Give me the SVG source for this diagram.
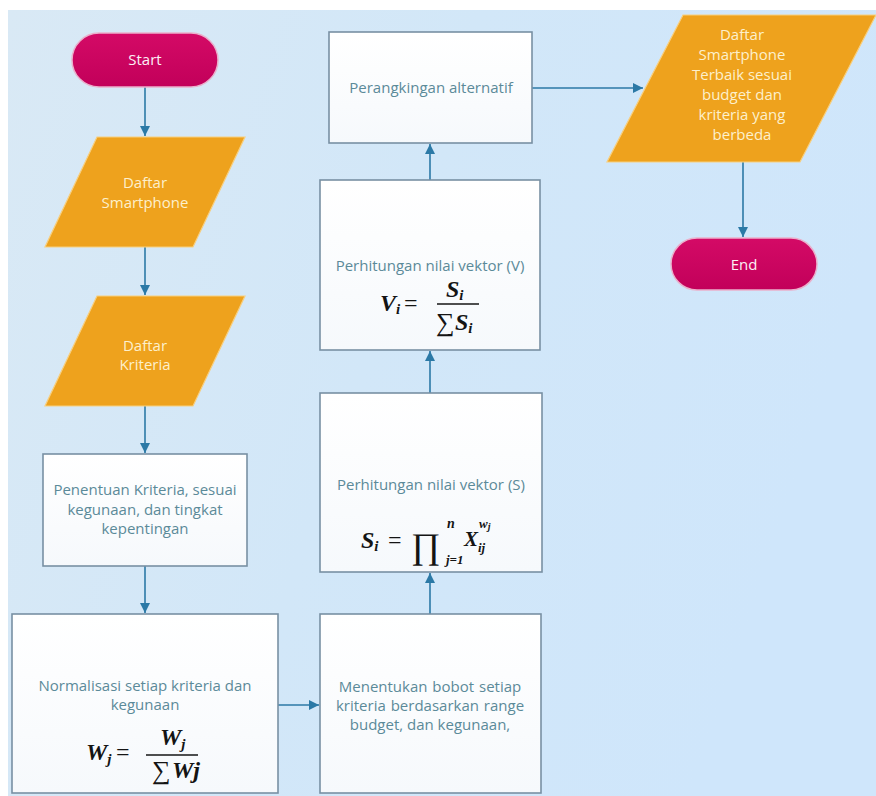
<svg xmlns="http://www.w3.org/2000/svg" width="876" height="796" viewBox="0 0 876 796">
<defs>
<linearGradient id="bg" x1="0" y1="0" x2="1" y2="0.3">
<stop offset="0" stop-color="#d9e9f5"/>
<stop offset="0.5" stop-color="#d2e7f8"/>
<stop offset="1" stop-color="#cfe6fb"/>
</linearGradient>
<linearGradient id="pill" x1="0" y1="0" x2="0" y2="1">
<stop offset="0" stop-color="#d40a66"/>
<stop offset="1" stop-color="#c2005a"/>
</linearGradient>
<linearGradient id="box" x1="0" y1="0" x2="0" y2="1">
<stop offset="0" stop-color="#ffffff"/>
<stop offset="1" stop-color="#f6f9fc"/>
</linearGradient>
<marker id="ah" viewBox="0 0 10 10" refX="10" refY="5" markerWidth="10" markerHeight="10" markerUnits="userSpaceOnUse" orient="auto">
<path d="M0,0 L10,5 L0,10 z" fill="#2b79a6"/>
</marker>
<style>
.pill{fill:url(#pill);stroke:#eab0cb;stroke-width:1.5}
.para{fill:#eea21d;stroke:#f8cf7e;stroke-width:1.2}
.box{fill:url(#box);stroke:#7890a3;stroke-width:1.6}
.conn{fill:none;stroke:#2b79a6;stroke-width:1.6;marker-end:url(#ah)}
.t{font-family:"Open Sans","Noto Sans",sans-serif;font-size:15px;text-anchor:middle}
.tp{fill:#fcf0f5}
.to{fill:#fdf0cc}
.tb{fill:#5b8a99}
.m{font-family:"Liberation Serif","DejaVu Serif",serif;font-style:italic;font-weight:bold;fill:#141414}
.mn{font-family:"Liberation Serif","DejaVu Serif",serif;fill:#141414}
.bar{stroke:#141414;stroke-width:1.5}
</style>
</defs>
<rect x="0" y="0" width="876" height="796" fill="#ffffff"/>
<rect x="8" y="10" width="868" height="786" fill="url(#bg)"/>

<g id="connectors">
<line class="conn" x1="145" y1="87" x2="145" y2="136"/>
<line class="conn" x1="145" y1="247" x2="145" y2="295"/>
<line class="conn" x1="145" y1="406" x2="145" y2="453"/>
<line class="conn" x1="145" y1="566" x2="145" y2="613"/>
<line class="conn" x1="278" y1="705" x2="319" y2="705"/>
<line class="conn" x1="430" y1="614" x2="430" y2="573"/>
<line class="conn" x1="430" y1="393" x2="430" y2="351"/>
<line class="conn" x1="430" y1="180" x2="430" y2="144"/>
<line class="conn" x1="532" y1="88" x2="643" y2="88"/>
<line class="conn" x1="743" y1="162" x2="743" y2="237"/>
</g>

<g id="start">
<rect class="pill" x="72" y="33" width="146" height="54" rx="27" ry="27"/>
<text class="t tp" x="145" y="65">Start</text>
</g>

<g id="daftar-smartphone">
<polygon class="para" points="97,137 245,137 193,247 45,247"/>
<text class="t to" x="145" y="188">Daftar</text>
<text class="t to" x="145" y="208">Smartphone</text>
</g>

<g id="daftar-kriteria">
<polygon class="para" points="97,296 245,296 193,406 45,406"/>
<text class="t to" x="145" y="351">Daftar</text>
<text class="t to" x="145" y="370">Kriteria</text>
</g>

<g id="penentuan">
<rect class="box" x="43" y="454" width="204" height="112"/>
<text class="t tb" x="145" y="495">Penentuan Kriteria, sesuai</text>
<text class="t tb" x="145" y="515">kegunaan, dan tingkat</text>
<text class="t tb" x="145" y="534">kepentingan</text>
</g>

<g id="normalisasi">
<rect class="box" x="12" y="614" width="266" height="179"/>
<text class="t tb" x="145" y="691">Normalisasi setiap kriteria dan</text>
<text class="t tb" x="145" y="710">kegunaan</text>
<text class="m" x="86" y="760" font-size="24">W<tspan font-size="15" dy="4">j</tspan></text>
<text class="mn" x="116" y="760" font-size="24">=</text>
<text class="m" x="160" y="745" font-size="24">W<tspan font-size="15" dy="4">j</tspan></text>
<line class="bar" x1="146" y1="755" x2="198" y2="755"/>
<text class="mn" x="152" y="779" font-size="26">∑</text>
<text class="m" x="172" y="778" font-size="24">Wj</text>
</g>

<g id="menentukan">
<rect class="box" x="320" y="614" width="221" height="179"/>
<text class="t tb" x="430" y="692" word-spacing="1">Menentukan  bobot setiap</text>
<text class="t tb" x="430" y="711" word-spacing="1">kriteria berdasarkan range</text>
<text class="t tb" x="430" y="730">budget, dan kegunaan,</text>
</g>

<g id="vektor-s">
<rect class="box" x="320" y="393" width="222" height="179"/>
<text class="t tb" x="431" y="490">Perhitungan nilai vektor (S)</text>
<text class="m" x="361" y="548" font-size="24">S<tspan font-size="15" dy="3">i</tspan></text>
<text class="mn" x="388" y="548" font-size="24">=</text>
<text class="mn" x="411" y="558" font-size="36" font-family="DejaVu Serif">∏</text>
<text class="m" x="447" y="528" font-size="14" font-weight="normal">n</text>
<text class="m" x="446" y="564" font-size="13">j=1</text>
<text class="m" x="464" y="546" font-size="21" font-weight="normal">X</text>
<text class="m" x="479" y="528" font-size="13" font-weight="normal">w<tspan font-size="10" dy="2">j</tspan></text>
<text class="m" x="478" y="552" font-size="13" font-weight="normal">ij</text>
</g>

<g id="vektor-v">
<rect class="box" x="320" y="180" width="220" height="170"/>
<text class="t tb" x="430" y="271">Perhitungan nilai vektor (V)</text>
<text class="m" x="380" y="311" font-size="24">V<tspan font-size="15" dy="3">i</tspan></text>
<text class="mn" x="404" y="311" font-size="24">=</text>
<text class="m" x="446" y="297" font-size="24">S<tspan font-size="15" dy="3">i</tspan></text>
<line class="bar" x1="437" y1="304" x2="479" y2="304"/>
<text class="mn" x="436" y="331" font-size="26">∑</text>
<text class="m" x="455" y="330" font-size="24">S<tspan font-size="15" dy="3">i</tspan></text>
</g>

<g id="perangkingan">
<rect class="box" x="329" y="32" width="203" height="111"/>
<text class="t tb" x="431" y="93">Perangkingan alternatif</text>
</g>

<g id="daftar-terbaik">
<polygon class="para" points="683,15 876,15 800,162 607,162"/>
<text class="t to" x="742" y="40">Daftar</text>
<text class="t to" x="742" y="60">Smartphone</text>
<text class="t to" x="742" y="80">Terbaik sesuai</text>
<text class="t to" x="742" y="100">budget dan</text>
<text class="t to" x="742" y="120">kriteria yang</text>
<text class="t to" x="742" y="140">berbeda</text>
</g>

<g id="end">
<rect class="pill" x="671" y="238" width="146" height="52" rx="26" ry="26"/>
<text class="t tp" x="744" y="270">End</text>
</g>
</svg>
